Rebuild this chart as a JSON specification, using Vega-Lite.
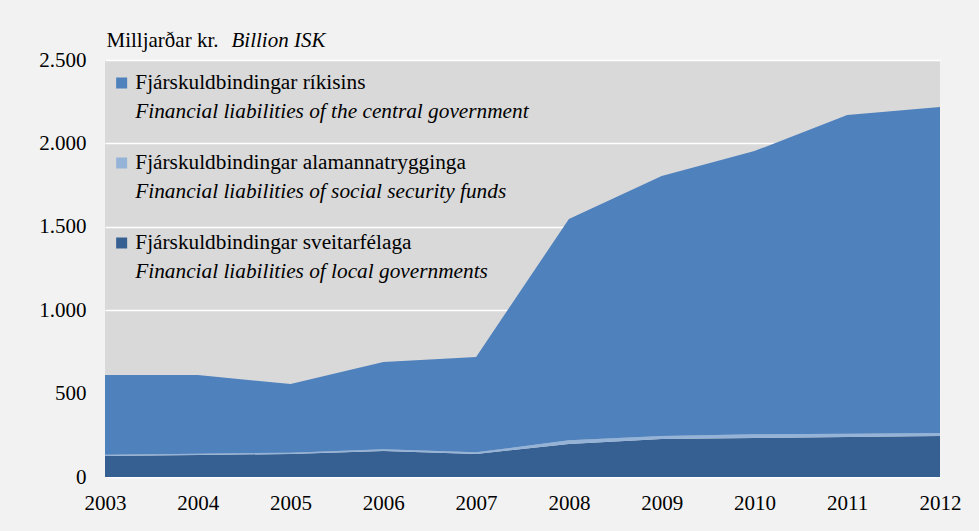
{
  "$schema": "https://vega.github.io/schema/vega-lite/v6.json",
  "width": 835,
  "height": 417,
  "autosize": {"type": "none"},
  "padding": {"left": 105, "top": 60, "right": 39, "bottom": 54},
  "background": "#f2f2f2",
  "config": {
    "view": {"fill": "#d9d9d9", "stroke": null},
    "font": "Times New Roman, Liberation Serif, DejaVu Serif, serif",
    "axis": {"labelFont": "Times New Roman, Liberation Serif, DejaVu Serif, serif", "labelFontSize": 21, "labelColor": "#000000", "titleFont": "Times New Roman, Liberation Serif, DejaVu Serif, serif", "titleColor": "#000000", "titleFontSize": 21, "titleFontWeight": "normal"},
    "legend": {"labelFont": "Times New Roman, Liberation Serif, DejaVu Serif, serif", "labelFontSize": 21.3, "labelColor": "#000000", "padding": 0}
  },
  "data": {
    "values": [
      {"year": 2003, "series": "Fjárskuldbindingar sveitarfélaga", "en": "Financial liabilities of local governments", "order": 1, "value": 126},
      {"year": 2004, "series": "Fjárskuldbindingar sveitarfélaga", "en": "Financial liabilities of local governments", "order": 1, "value": 132},
      {"year": 2005, "series": "Fjárskuldbindingar sveitarfélaga", "en": "Financial liabilities of local governments", "order": 1, "value": 138},
      {"year": 2006, "series": "Fjárskuldbindingar sveitarfélaga", "en": "Financial liabilities of local governments", "order": 1, "value": 156},
      {"year": 2007, "series": "Fjárskuldbindingar sveitarfélaga", "en": "Financial liabilities of local governments", "order": 1, "value": 138},
      {"year": 2008, "series": "Fjárskuldbindingar sveitarfélaga", "en": "Financial liabilities of local governments", "order": 1, "value": 198},
      {"year": 2009, "series": "Fjárskuldbindingar sveitarfélaga", "en": "Financial liabilities of local governments", "order": 1, "value": 228},
      {"year": 2010, "series": "Fjárskuldbindingar sveitarfélaga", "en": "Financial liabilities of local governments", "order": 1, "value": 234},
      {"year": 2011, "series": "Fjárskuldbindingar sveitarfélaga", "en": "Financial liabilities of local governments", "order": 1, "value": 240},
      {"year": 2012, "series": "Fjárskuldbindingar sveitarfélaga", "en": "Financial liabilities of local governments", "order": 1, "value": 246},
      {"year": 2003, "series": "Fjárskuldbindingar alamannatrygginga", "en": "Financial liabilities of social security funds", "order": 2, "value": 8},
      {"year": 2004, "series": "Fjárskuldbindingar alamannatrygginga", "en": "Financial liabilities of social security funds", "order": 2, "value": 8},
      {"year": 2005, "series": "Fjárskuldbindingar alamannatrygginga", "en": "Financial liabilities of social security funds", "order": 2, "value": 8},
      {"year": 2006, "series": "Fjárskuldbindingar alamannatrygginga", "en": "Financial liabilities of social security funds", "order": 2, "value": 10},
      {"year": 2007, "series": "Fjárskuldbindingar alamannatrygginga", "en": "Financial liabilities of social security funds", "order": 2, "value": 10},
      {"year": 2008, "series": "Fjárskuldbindingar alamannatrygginga", "en": "Financial liabilities of social security funds", "order": 2, "value": 22},
      {"year": 2009, "series": "Fjárskuldbindingar alamannatrygginga", "en": "Financial liabilities of social security funds", "order": 2, "value": 18},
      {"year": 2010, "series": "Fjárskuldbindingar alamannatrygginga", "en": "Financial liabilities of social security funds", "order": 2, "value": 22},
      {"year": 2011, "series": "Fjárskuldbindingar alamannatrygginga", "en": "Financial liabilities of social security funds", "order": 2, "value": 20},
      {"year": 2012, "series": "Fjárskuldbindingar alamannatrygginga", "en": "Financial liabilities of social security funds", "order": 2, "value": 18},
      {"year": 2003, "series": "Fjárskuldbindingar ríkisins", "en": "Financial liabilities of the central government", "order": 3, "value": 477},
      {"year": 2004, "series": "Fjárskuldbindingar ríkisins", "en": "Financial liabilities of the central government", "order": 3, "value": 471},
      {"year": 2005, "series": "Fjárskuldbindingar ríkisins", "en": "Financial liabilities of the central government", "order": 3, "value": 411},
      {"year": 2006, "series": "Fjárskuldbindingar ríkisins", "en": "Financial liabilities of the central government", "order": 3, "value": 523},
      {"year": 2007, "series": "Fjárskuldbindingar ríkisins", "en": "Financial liabilities of the central government", "order": 3, "value": 571},
      {"year": 2008, "series": "Fjárskuldbindingar ríkisins", "en": "Financial liabilities of the central government", "order": 3, "value": 1327},
      {"year": 2009, "series": "Fjárskuldbindingar ríkisins", "en": "Financial liabilities of the central government", "order": 3, "value": 1559},
      {"year": 2010, "series": "Fjárskuldbindingar ríkisins", "en": "Financial liabilities of the central government", "order": 3, "value": 1698},
      {"year": 2011, "series": "Fjárskuldbindingar ríkisins", "en": "Financial liabilities of the central government", "order": 3, "value": 1910},
      {"year": 2012, "series": "Fjárskuldbindingar ríkisins", "en": "Financial liabilities of the central government", "order": 3, "value": 1954}
    ]
  },
  "mark": {"type": "area", "interpolate": "linear"},
  "encoding": {
    "x": {
      "field": "year", "type": "quantitative",
      "scale": {"domain": [2003, 2012], "nice": false, "zero": false},
      "axis": {
        "values": [2003, 2004, 2005, 2006, 2007, 2008, 2009, 2010, 2011, 2012],
        "format": "d", "grid": false, "domain": false, "ticks": false, "labelPadding": 15,
        "labelFlush": false, "labelOverlap": false,
        "title": "Billion ISK", "titleFontStyle": "italic", "titleAngle": 0,
        "titleAlign": "left", "titleBaseline": "alphabetic", "titleX": 126, "titleY": -431
      }
    },
    "y": {
      "field": "value", "type": "quantitative", "stack": "zero",
      "scale": {"domain": [0, 2500], "nice": false},
      "axis": {
        "values": [0, 500, 1000, 1500, 2000, 2500],
        "labelExpr": "replace(format(datum.value, ','), ',', '.')",
        "grid": true, "gridColor": "#ffffff", "gridWidth": 1.5,
        "domain": false, "ticks": false, "labelPadding": 19,
        "title": "Milljarðar kr.", "titleAngle": 0, "titleAlign": "left",
        "titleBaseline": "alphabetic", "titleX": 1, "titleY": -14
      }
    },
    "order": {"field": "order", "type": "quantitative"},
    "color": {
      "field": "series", "type": "nominal",
      "scale": {
        "domain": ["Fjárskuldbindingar ríkisins", "Fjárskuldbindingar alamannatrygginga", "Fjárskuldbindingar sveitarfélaga"],
        "range": ["#4f81bd", "#95b3d7", "#376092"]
      },
      "legend": {
        "title": null, "orient": "none", "legendX": 6, "legendY": 12,
        "symbolType": "square", "symbolSize": 121, "symbolStrokeWidth": 0,
        "labelOffset": 3, "clipHeight": 22, "rowPadding": 58, "direction": "vertical", "labelLimit": 600
      }
    },
    "opacity": {
      "field": "en", "type": "nominal",
      "scale": {
        "type": "ordinal",
        "domain": ["Financial liabilities of the central government", "Financial liabilities of social security funds", "Financial liabilities of local governments"],
        "range": [1, 1, 1]
      },
      "legend": {
        "title": null, "orient": "none", "legendX": 6, "legendY": 41,
        "symbolType": "square", "symbolSize": 121, "symbolOpacity": 0, "symbolStrokeWidth": 0,
        "symbolFillColor": "transparent", "symbolStrokeColor": "transparent",
        "labelOffset": 3, "clipHeight": 22, "rowPadding": 58, "direction": "vertical",
        "labelFontStyle": "italic", "labelLimit": 600,
        "encode": {"symbols": {"update": {"opacity": {"value": 0}, "fillOpacity": {"value": 0}, "fill": {"value": "transparent"}}}}
      }
    }
  }
}
